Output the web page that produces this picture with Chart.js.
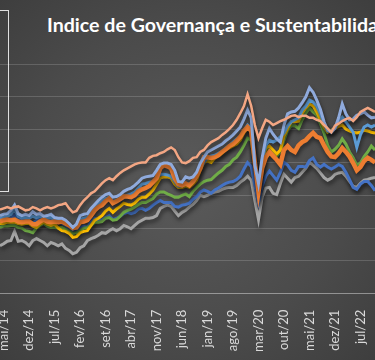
<!DOCTYPE html>
<html>
<head>
<meta charset="utf-8">
<script src="https://cdn.jsdelivr.net/npm/chart.js@4/dist/chart.umd.min.js"></script>
<style>
  html, body { margin: 0; padding: 0; }
  body {
    width: 375px; height: 360px; overflow: hidden; position: relative;
    background: radial-gradient(ellipse at 50% 50%, #5a5a5a 0%, #4b4b4b 60%, #3e3e3e 100%);
  }
  #titulo {
    position: absolute; left: 47px; top: 13px; white-space: nowrap;
    font-family: Lato, sans-serif; font-weight: bold; font-size: 19.6px; color: #fff;
  }
  #caixa {
    position: absolute; left: -60px; top: 10px; width: 69px; height: 182px;
    box-sizing: border-box; border: 1px solid #e0e0e0;
  }
  canvas { position: absolute; left: 0; top: 0; }
</style>
</head>
<body>
<div id="caixa"></div>
<div id="titulo">Indice de Governança e Sustentabilidade</div>
<canvas id="grafico" width="375" height="360"></canvas>
<script>
// meses abr/14 .. nov/22
const meses = ['jan','fev','mar','abr','mai','jun','jul','ago','set','out','nov','dez'];
const labels = [];
for (let a = 14; a <= 22; a++) {
    meses.forEach((m, k) => {
        if (a === 14 && k < 3) return;
        if (a === 22 && k > 10) return;
        labels.push(m + '/' + a);
    });
}

const salmao = [128,130,132,130,132,133,130,127,128,132,
    130,127,130,132,130,132,135,136,138,130,
    124,126,135,142,147,153,156,162,168,173,
    176,173,179,184,188,191,194,197,199,200,
    200,207,210,211,214,216,220,223,219,208,
    200,199,202,207,208,216,219,226,231,234,
    237,242,246,251,257,265,275,286,304,286,
    257,237,252,265,262,257,260,263,265,268,
    271,272,269,271,271,268,268,265,263,257,
    252,246,256,259,263,266,268,263,269,277,
    280,283,280,277];

const lavanda = [119,121,122,127,135,122,119,121,119,125,
    121,122,118,119,121,116,115,115,112,107,
    101,106,119,121,122,130,136,142,147,151,
    153,147,148,151,156,159,161,165,170,176,
    178,179,180,188,197,199,199,197,188,171,
    170,178,176,178,185,199,208,216,219,222,
    225,228,233,237,242,248,254,266,280,268,
    196,168,207,237,252,243,236,231,257,274,
    277,278,283,291,300,314,307,295,281,262,
    249,246,252,268,289,274,265,266,272,274,
    277,272,268,269];

const azulClaro = [115,116,118,121,129,118,115,116,115,118,
    116,118,115,115,116,113,112,112,109,104,
    98,101,113,115,116,124,132,136,141,145,
    147,141,142,145,148,150,152,155,161,167,
    168,170,171,176,182,182,181,179,171,164,
    164,168,167,170,178,191,200,207,210,211,
    214,217,222,226,231,236,240,249,257,252,
    196,162,204,226,234,231,234,239,245,256,
    262,265,268,280,286,295,292,286,274,259,
    248,248,252,262,269,262,254,246,223,242,
    254,257,254,257];

const laranja = [110,112,113,112,113,110,109,110,110,106,
    106,110,113,110,109,110,109,110,107,104,
    100,101,109,110,112,119,127,132,135,141,
    145,138,141,144,148,148,147,150,156,159,
    161,164,170,176,191,196,194,191,176,167,
    165,168,165,171,179,191,208,208,207,208,
    211,216,220,225,228,233,239,248,254,248,
    200,155,191,208,216,210,204,197,219,225,
    219,216,226,231,234,240,245,239,237,226,
    216,209,208,214,222,216,209,199,188,193,
    202,207,204,200];

const amarelo = [107,107,109,109,109,107,106,107,107,103,
    101,106,109,106,104,106,100,96,95,92,
    86,87,93,95,96,104,112,115,119,126,
    130,124,129,133,138,136,135,138,144,147,
    147,152,158,167,176,178,178,176,167,162,
    162,164,162,167,173,188,200,202,200,207,
    210,214,219,222,225,228,234,245,252,249,
    204,158,200,222,225,219,213,219,240,252,
    262,262,263,275,283,289,286,277,265,254,
    246,249,252,255,257,251,248,246,245,246,
    249,248,246,245];

const verde = [101,103,103,104,104,101,100,96,95,93,
    100,104,107,103,101,101,100,101,98,95,
    92,93,96,100,101,104,109,109,110,115,
    116,112,113,118,124,127,129,132,136,139,
    139,142,145,152,155,155,152,150,147,147,
    150,152,148,156,162,167,171,173,174,179,
    184,188,194,197,204,208,216,226,237,234,
    196,156,200,219,222,213,210,216,234,249,
    256,256,252,265,275,283,277,272,259,245,
    226,216,220,226,236,228,216,207,196,199,
    209,216,225,219];

const azul = [115,113,112,115,121,113,112,112,110,107,
    112,115,113,110,113,112,110,107,104,100,
    93,95,101,103,101,109,115,113,112,116,
    119,113,115,118,122,124,122,124,129,130,
    127,130,135,139,142,139,139,139,133,132,
    135,136,138,144,148,155,158,156,153,158,
    161,165,168,170,171,174,179,190,200,194,
    165,139,164,179,187,180,173,185,200,196,
    188,185,194,194,193,203,207,197,193,197,
    193,190,193,197,194,185,174,162,159,167,
    171,171,165,157];

const cinza = [73,76,80,81,95,80,81,78,73,81,
    84,81,78,73,78,76,73,76,69,66,
    61,63,70,73,81,84,86,89,93,92,
    96,99,96,99,104,102,99,104,109,112,
    115,115,116,119,130,133,135,133,126,119,
    124,127,132,136,142,150,148,150,153,155,
    156,159,161,162,162,165,170,174,179,173,
    142,113,147,161,162,153,151,168,182,176,
    170,177,179,185,191,200,196,191,184,177,
    173,176,182,184,185,179,171,164,162,168,
    173,174,176,177];

const sombra = {
    id: 'sombra',
    beforeDatasetDraw(chart) {
        const c = chart.ctx;
        c.save();
        c.shadowColor = 'rgba(0,0,0,0.5)';
        c.shadowBlur = 4;
        c.shadowOffsetX = 1;
        c.shadowOffsetY = 3;
    },
    afterDatasetDraw(chart) {
        chart.ctx.restore();
    }
};

function serie(nome, dados, cor, largura) {
    return {
        label: nome,
        data: dados,
        borderColor: cor,
        borderWidth: largura,
        pointRadius: 0,
        tension: 0,
        fill: false
    };
}

const ctx = document.getElementById('grafico').getContext('2d');
new Chart(ctx, {
    type: 'line',
    data: {
        labels: labels,
        datasets: [
            serie('Série 1', salmao, '#F3A683', 2.5),
            serie('Série 2', lavanda, '#8FAADC', 3),
            serie('Série 3', laranja, '#ED7D31', 4.5),
            serie('Série 4', azulClaro, '#5B9BD5', 3),
            serie('Série 5', amarelo, '#FFC000', 3),
            serie('Série 6', verde, '#70AD47', 3),
            serie('Série 7', azul, '#4472C4', 3),
            serie('Série 8', cinza, '#A5A5A5', 3)
        ]
    },
    options: {
        responsive: false,
        animation: false,
        layout: { padding: { top: 64, left: 0, right: 0, bottom: 0 } },
        plugins: {
            legend: { display: false },
            title: { display: false },
            tooltip: { enabled: false }
        },
        scales: {
            x: {
                grid: { display: false },
                border: { display: true, color: 'rgba(255,255,255,0.3)' },
                afterFit: function (scale) {
                    scale.paddingLeft = 0;
                    scale.paddingRight = 0;
                },
                ticks: {
                    autoSkip: false,
                    maxRotation: 90,
                    minRotation: 90,
                    padding: 8,
                    color: '#d9d9d9',
                    font: { family: 'Lato', size: 13 },
                    callback: function (v, i) {
                        return (i - 1) % 7 === 0 ? labels[i] : '';
                    }
                }
            },
            y: {
                min: 0,
                max: 350,
                ticks: { display: false, stepSize: 50 },
                grid: { color: 'rgba(255,255,255,0.16)', drawTicks: false },
                border: { display: false }
            }
        }
    },
    plugins: [sombra]
});
</script>
</body>
</html>
